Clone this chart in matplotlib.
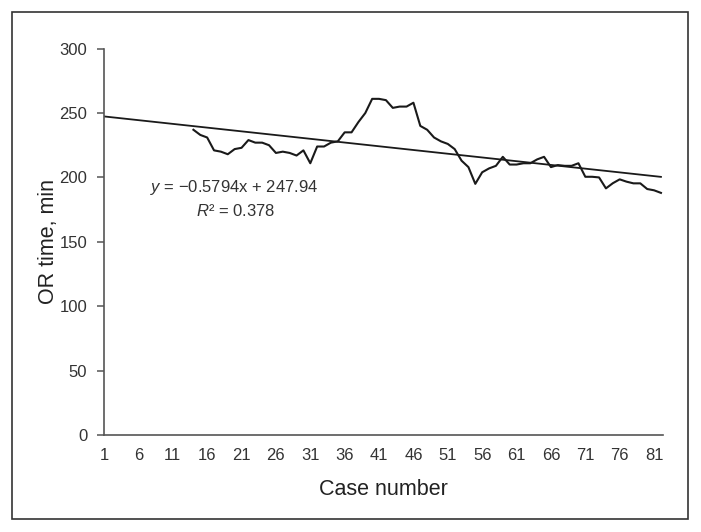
import matplotlib
matplotlib.use("Agg")
import matplotlib.pyplot as plt
import numpy as np
from matplotlib.patches import Rectangle

plt.rcParams['font.family'] = ['Liberation Sans', 'DejaVu Sans']
plt.rcParams['mathtext.fontset'] = 'custom'
plt.rcParams['mathtext.rm'] = 'Liberation Sans'
plt.rcParams['mathtext.it'] = 'Liberation Sans:italic'

# moving-average OR time, cases 14..82
case_start = 14
or_time = [237, 233, 231, 221, 220, 218, 222, 223, 229, 227,
           227, 225, 219, 220, 219, 217, 221, 211, 224, 224,
           227, 228, 235, 235, 243, 250, 261, 261, 260, 254,
           255, 255, 258, 240, 237, 231, 228, 226, 222, 213,
           208, 195, 204, 207, 209, 216, 210, 210, 211, 211,
           214, 216, 208, 209.6, 209, 209, 211, 200.5, 200.5, 200,
           191.5, 195.5, 198.5, 196.7, 195.4, 195.4, 191, 190, 188]
n_cases = 82
slope, intercept = -0.5794, 247.94
xtick_labels = list(range(1, 82, 5))
yticks = [0, 50, 100, 150, 200, 250, 300]

cases = np.arange(case_start, case_start + len(or_time))
trend_x = np.array([1, n_cases])
trend_y = slope * trend_x + intercept

fig = plt.figure(figsize=(7.01, 5.32), dpi=100)
ax = fig.add_axes([0.1484, 0.1823, 0.7974, 0.7263])

ax.plot(trend_x, trend_y, color='#1a1a1a', lw=1.3)
ax.plot(cases, or_time, color='#1a1a1a', lw=1.5)

ax.set_xlim(1, 82.3)
ax.set_ylim(0, 300)
ax.set_xticks(xtick_labels)
ax.set_yticks(yticks)
for s in ['top', 'right']:
    ax.spines[s].set_visible(False)
for s in ['left', 'bottom']:
    ax.spines[s].set_color('#555555')
    ax.spines[s].set_linewidth(1.2)
ax.tick_params(axis='y', length=5, width=1.1, color='#555555', pad=7,
               labelsize=12, labelcolor='#333333')
ax.tick_params(axis='x', length=0, pad=9, labelsize=12, labelcolor='#333333')

ax.set_xlabel('Case number', fontsize=15.5, color='#222222', labelpad=12)
ax.set_ylabel('OR time, min', fontsize=15.5, color='#222222', labelpad=0)

ax.text(19.9, 192, r'$y$ = −0.5794x + 247.94', fontsize=12, color='#333333',
        ha='center', va='center')
ax.text(20.1, 174, r'$R$² = 0.378', fontsize=12, color='#333333',
        ha='center', va='center')

# outer frame
fig.patches.append(Rectangle((0.0171, 0.0244), 0.9643, 0.953, transform=fig.transFigure,
                             fill=False, edgecolor='#333333', lw=1.2))

fig.savefig('out.png', dpi=100)
